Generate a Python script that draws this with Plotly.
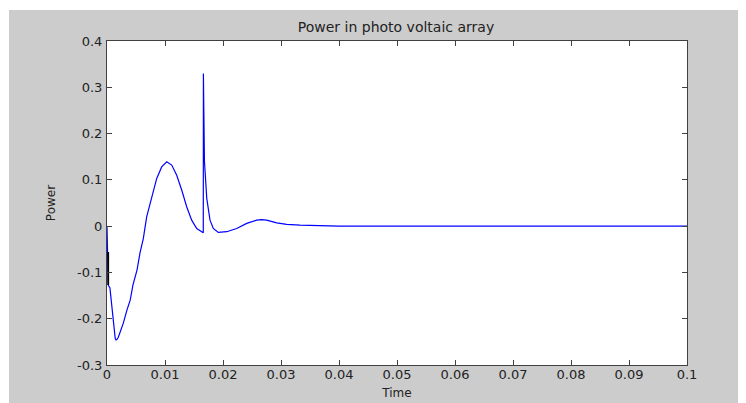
import plotly.graph_objects as go

# Data (time in s, power)
time = [0, 0.00022, 0.0005, 0.0008, 0.0010, 0.00125, 0.00142, 0.00155, 0.0017, 0.00195, 0.0028, 0.00345,
        0.0040, 0.00448, 0.00517, 0.00569, 0.00626, 0.00684, 0.00771, 0.00857, 0.00943, 0.0103,
        0.01116, 0.01202, 0.01288, 0.01374, 0.0146, 0.01547, 0.01633, 0.0166, 0.01662, 0.01672,
        0.0168, 0.0172, 0.01776, 0.01833, 0.01919, 0.02064, 0.02236, 0.02409, 0.02581, 0.02667,
        0.02753, 0.02926, 0.03098, 0.03328, 0.03616, 0.0400, 0.1000]
power = [0, -0.128, -0.133, -0.174, -0.203, -0.232, -0.243, -0.246, -0.245, -0.24, -0.21, -0.181,
         -0.16, -0.127, -0.095, -0.058, -0.027, 0.02, 0.063, 0.103, 0.128, 0.139,
         0.132, 0.11, 0.078, 0.042, 0.013, -0.005, -0.012, -0.0145, 0.33, 0.147,
         0.14, 0.06, 0.013, -0.005, -0.0136, -0.012, -0.005, 0.006, 0.013, 0.014,
         0.013, 0.007, 0.0037, 0.002, 0.0007, 0.0, 0.0]

# short dark segment near t=0
dark_time = [0.00021, 0.00021]
dark_power = [-0.056, -0.127]

x_ticks = [0, 0.01, 0.02, 0.03, 0.04, 0.05, 0.06, 0.07, 0.08, 0.09, 0.1]
x_labels = ["0", "0.01", "0.02", "0.03", "0.04", "0.05", "0.06", "0.07", "0.08", "0.09", "0.1"]
y_ticks = [-0.3, -0.2, -0.1, 0, 0.1, 0.2, 0.3, 0.4]
y_labels = ["-0.3", "-0.2", "-0.1", "0", "0.1", "0.2", "0.3", "0.4"]

# page body has an 8px white margin; the figure sits at (8, 8)
OFF = 8
W, H = 746 - OFF, 403 - OFF
L, R, T, B = 107 - OFF, 59, 41 - OFF, 38
FONT = "DejaVu Sans"
TXT = "#222222"

fig = go.Figure()
fig.add_trace(go.Scatter(x=time, y=power, mode="lines",
                         line=dict(color="#0000ff", width=1.2), showlegend=False))
fig.add_trace(go.Scatter(x=dark_time, y=dark_power, mode="lines",
                         line=dict(color="#000000", width=1.8), showlegend=False))

axis_common = dict(showgrid=False, zeroline=False, showline=True, linecolor="#404040",
                   linewidth=1, mirror="ticks", ticks="inside", ticklen=5, automargin=False,
                   tickcolor="#404040", tickfont=dict(family=FONT, size=13, color=TXT))

fig.update_xaxes(range=[0, 0.1], tickvals=x_ticks, ticktext=x_labels,
                 title=dict(text="Time", font=dict(family=FONT, size=12, color=TXT), standoff=8),
                 ticklabelstandoff=-3, **axis_common)
fig.update_yaxes(range=[-0.3, 0.4], tickvals=y_ticks, ticktext=y_labels,
                 title=dict(text="Power", font=dict(family=FONT, size=12, color=TXT), standoff=18),
                 ticklabelstandoff=1, **axis_common)

# extra white strips on the top and left edge (in page pixels)
px = lambda p: (p - OFF - L) / (W - L - R)
py = lambda p: (H - B - (p - OFF)) / (H - T - B)
fig.add_shape(type="rect", xref="paper", yref="paper", x0=px(0), x1=px(9), y0=py(420), y1=py(0),
              fillcolor="white", line_width=0, layer="above")
fig.add_shape(type="rect", xref="paper", yref="paper", x0=px(0), x1=px(760), y0=py(10), y1=py(0),
              fillcolor="white", line_width=0, layer="above")

fig.update_layout(
    width=W, height=H,
    margin=dict(l=L, r=R, t=T, b=B),
    paper_bgcolor="#cccccc", plot_bgcolor="white",
    title=dict(text="Power in photo voltaic array", x=(396 - OFF) / W, xanchor="center",
               y=1 - (27 - OFF) / H, yanchor="middle",
               font=dict(family=FONT, size=14, color=TXT)),
)

fig.write_html("out.html")
